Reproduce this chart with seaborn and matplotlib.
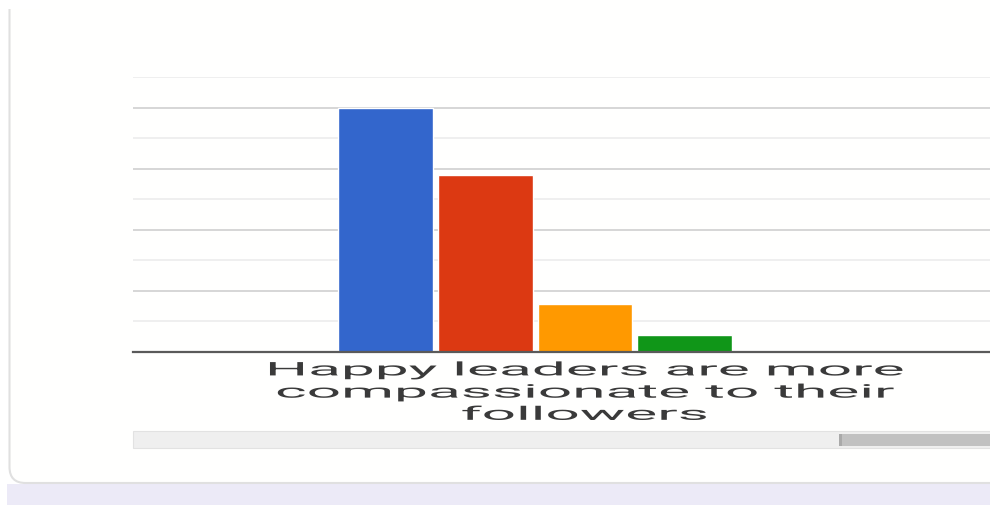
import textwrap
import matplotlib
matplotlib.use("Agg")
import matplotlib.pyplot as plt
from matplotlib.patches import Rectangle, FancyBboxPatch
from matplotlib.transforms import IdentityTransform, Affine2D
from matplotlib.patheffects import AbstractPathEffect
import numpy as np
import pandas as pd
import seaborn as sns

# ---- data ----
questions = ["Happy leaders are more compassionate to their followers"]
responses = ["Strongly agree", "Agree", "Neutral", "Disagree", "Strongly disagree"]
counts = [8.0, 5.8, 1.55, 0.55, 0.0]
colors = ["#3366cc", "#dc3912", "#ff9900", "#109618", "#990099"]

sns.set_theme(style="white")
plt.rcParams["font.family"] = ["Roboto", "DejaVu Sans"]

W, H = 990, 506
fig = plt.figure(figsize=(W / 100, H / 100), dpi=100)
fig.patch.set_facecolor("white")

ident = IdentityTransform()

def add_rect(x, y_top, w, h, zorder, **kw):
    r = Rectangle((x, H - y_top - h), w, h, transform=ident, zorder=zorder, **kw)
    fig.add_artist(r)
    return r

# page background + card
add_rect(7, 485, 990, 30, -5, facecolor="#eceaf7", edgecolor="none")
card = FancyBboxPatch((9.5, H - 484), 1200, 700,
                      boxstyle="round,pad=0,rounding_size=16",
                      transform=ident, facecolor="#fffffe", edgecolor="#e0e0e0",
                      linewidth=1.5, zorder=-4)
fig.add_artist(card)
add_rect(0, 0, 40, 10, -3, facecolor="white", edgecolor="none")

# ---- chart ----
ax = fig.add_axes([133 / W, (H - 352.7) / H, 904 / W, (352.7 - 78.3) / H])
ax.patch.set_alpha(0)

df = pd.DataFrame({
    "question": questions * len(responses),
    "response": responses,
    "count": counts,
})
sns.barplot(data=df, x="question", y="count", hue="response",
            hue_order=responses, palette=colors, saturation=1,
            width=0.553, gap=0.05, dodge=True, legend=False, ax=ax)

ax.set_ylim(0, 9)
ax.set_yticks(np.arange(0, 10, 2))
ax.set_yticks(np.arange(1, 10, 2), minor=True)
ax.yaxis.grid(True, which="major", color="#cccccc", linewidth=1.1)
ax.yaxis.grid(True, which="minor", color="#ebebeb", linewidth=1.1)
ax.set_axisbelow(True)
ax.tick_params(axis="y", which="both", length=0, labelleft=False)
ax.set_ylabel("")
ax.set_xlabel("")
for s in ["left", "right", "top"]:
    ax.spines[s].set_visible(False)
ax.spines["bottom"].set_color("#5a5a5a")
ax.spines["bottom"].set_linewidth(1.6)

label = "\n".join(textwrap.wrap(questions[0], 22))
ax.set_xticks([0])
ax.set_xticklabels([label], fontsize=13.5, color="#3a3a3a", linespacing=1.3)
ax.tick_params(axis="x", length=0, pad=7)


class HStretch(AbstractPathEffect):
    def __init__(self, sx, cx):
        super().__init__()
        self.sx = sx
        self.cx = cx

    def draw_path(self, renderer, gc, tpath, affine, rgbFace=None):
        t = affine + Affine2D().translate(-self.cx, 0).scale(self.sx, 1).translate(self.cx, 0)
        renderer.draw_path(gc, tpath, t, rgbFace)


fig.canvas.draw()
renderer = fig.canvas.get_renderer()
tl = ax.get_xticklabels()[0]
bb = tl.get_window_extent(renderer)
cx = ax.transData.transform((0, 0))[0]
tl.set_path_effects([HStretch(640 / bb.width, cx)])

# scrollbar
add_rect(133, 432, 900, 17, 2, facecolor="#efefef", edgecolor="#e2e2e2", linewidth=0.8)
add_rect(839, 434.5, 200, 12.5, 3, facecolor="#c1c1c1", edgecolor="none")
add_rect(839, 434.5, 2.5, 12.5, 3, facecolor="#a9a9a9", edgecolor="none")

fig.savefig("out.png", dpi=100)
